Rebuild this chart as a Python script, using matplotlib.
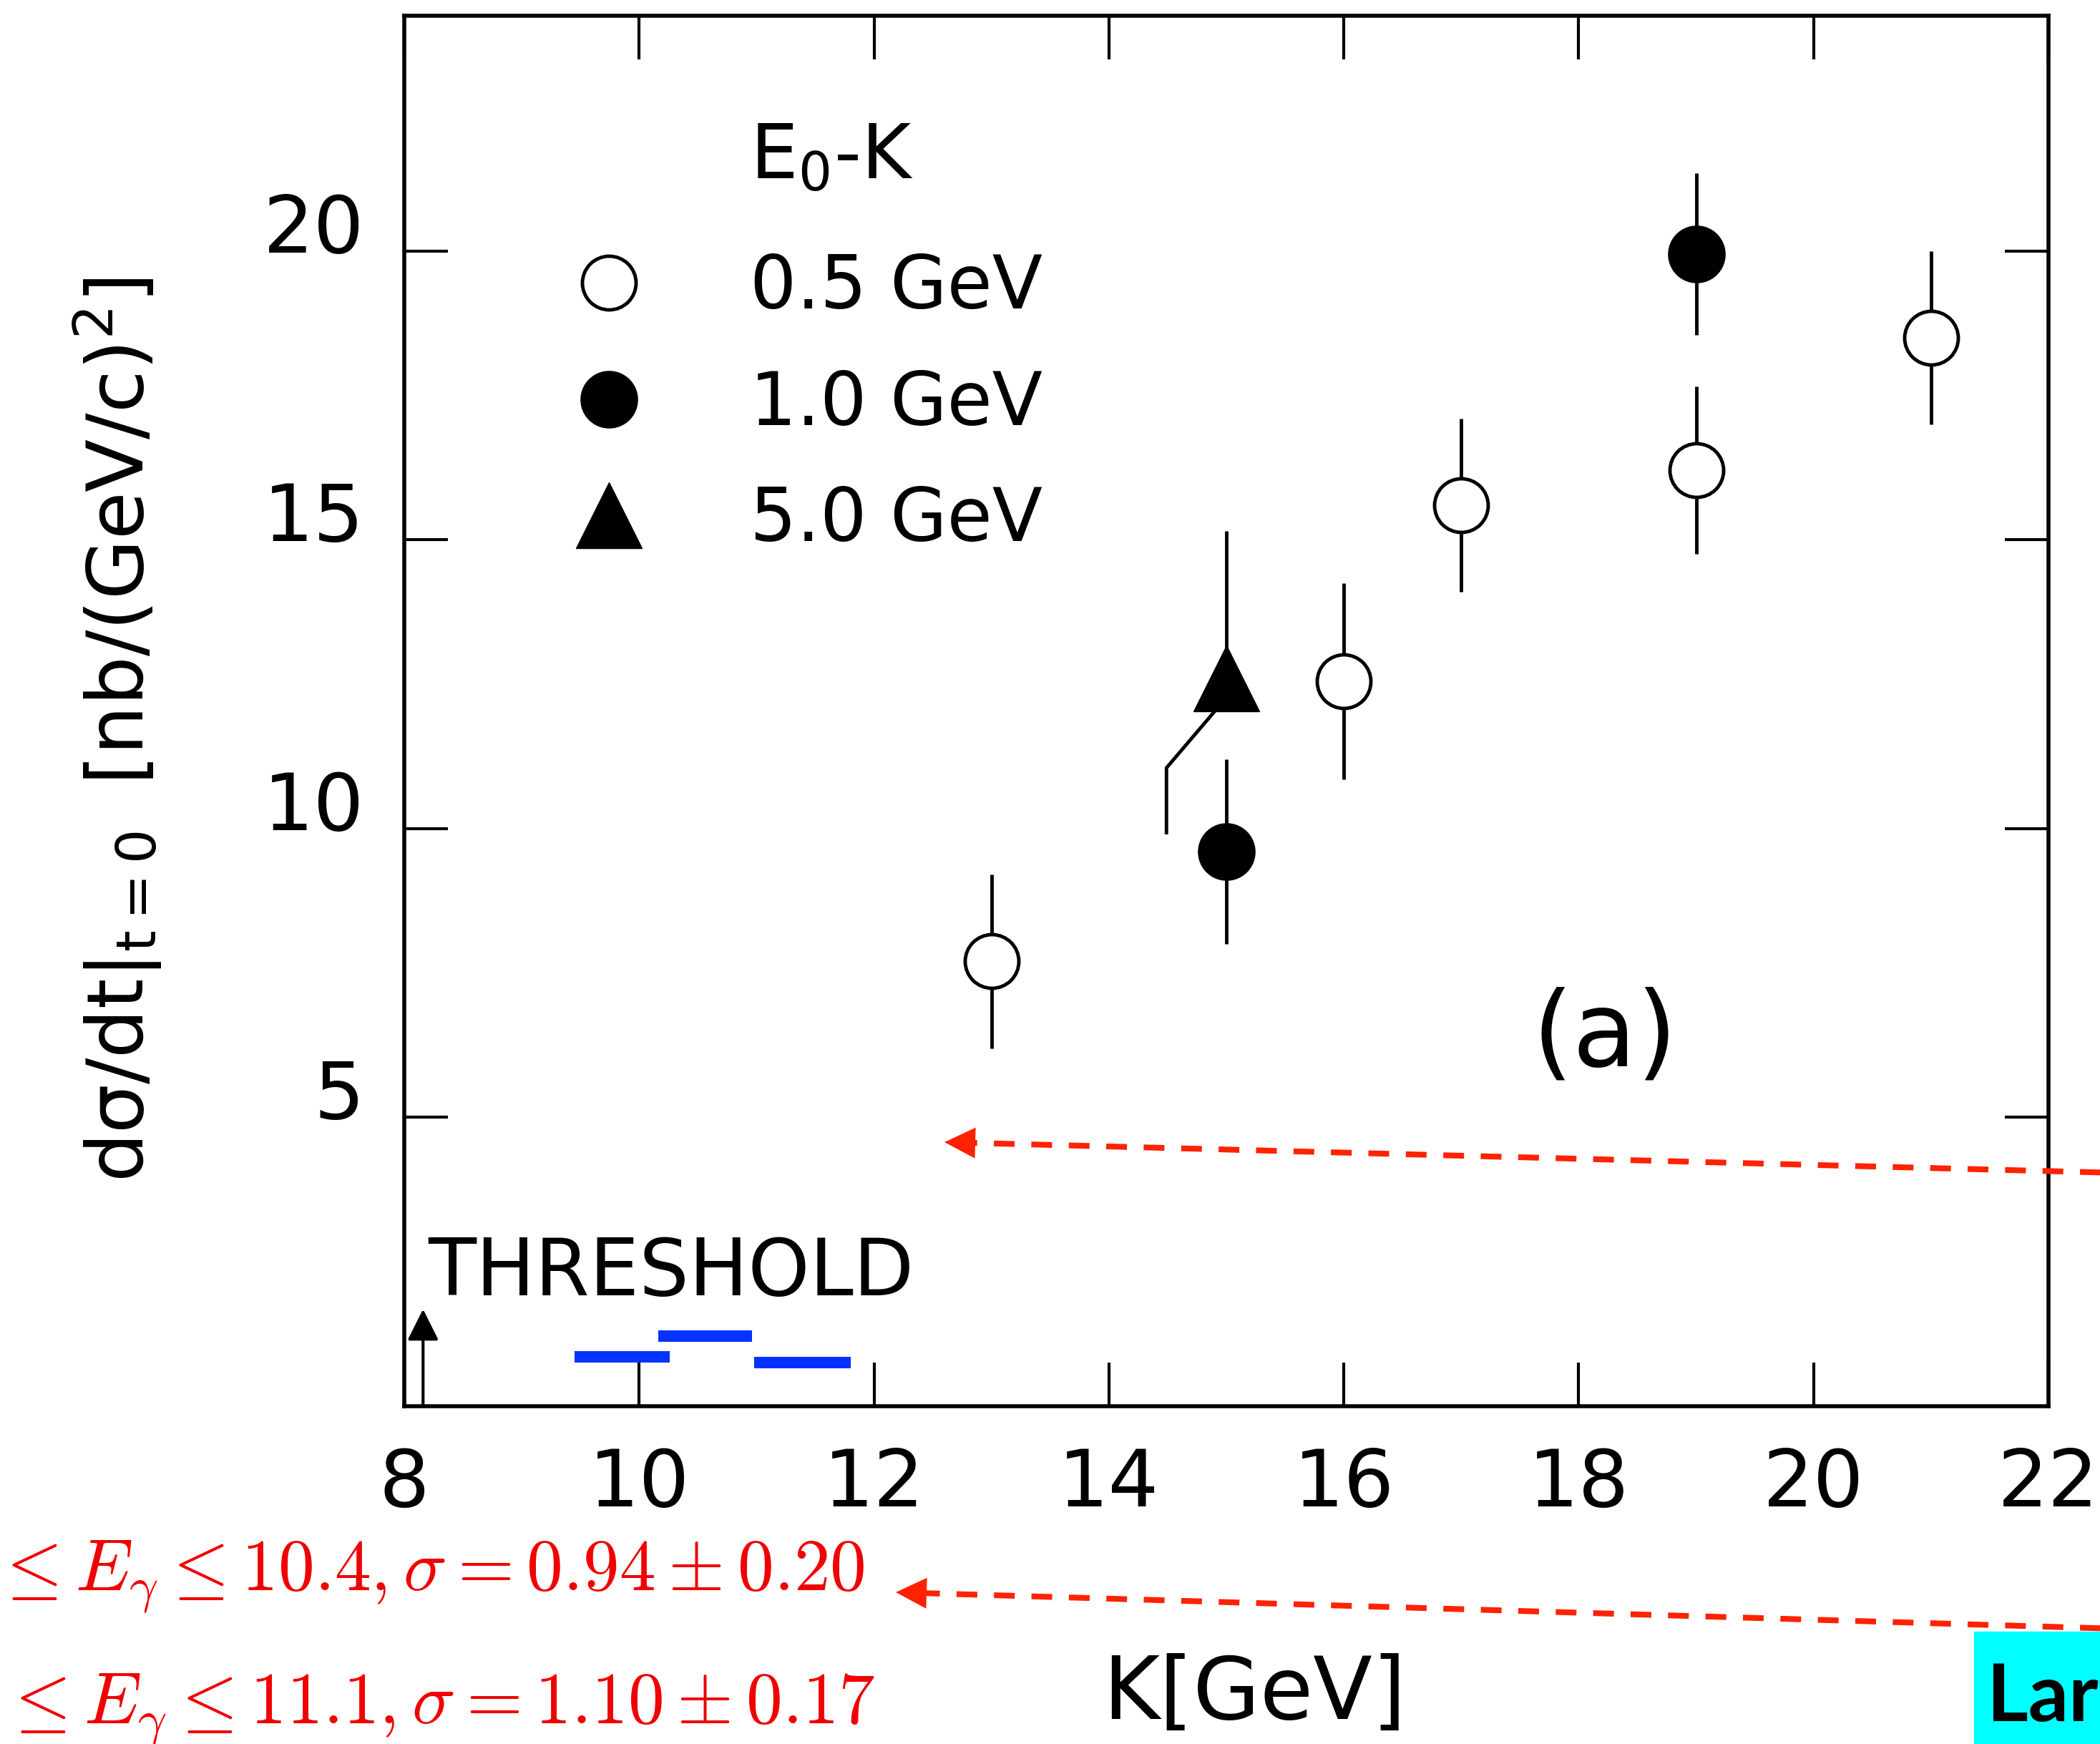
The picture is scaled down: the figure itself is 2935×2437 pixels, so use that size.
import matplotlib
matplotlib.use("Agg")
import matplotlib.pyplot as plt
import matplotlib.transforms as mtransforms
from matplotlib.lines import Line2D
from matplotlib.patches import Rectangle, FancyArrowPatch

# E0-K = 0.5 GeV (open circles)
k_05 = [13, 16, 17, 19, 21]
xs_05 = [7.7, 12.55, 15.6, 16.2, 18.5]
err_05 = [1.5, 1.7, 1.5, 1.45, 1.5]

# E0-K = 1.0 GeV (filled circles)
k_10 = [15, 19]
xs_10 = [9.6, 19.95]
err_10 = [1.6, 1.4]

# E0-K = 5.0 GeV (triangle), lower bar drawn displaced to the left
k_50 = [15]
xs_50 = [12.6]
err_50_up = [2.55]
bent_k = [14.93, 14.49, 14.49]
bent_xs = [12.1, 11.05, 9.93]

threshold_k = 8.16
threshold_top = 1.68

# blue bars
bar_lo = [9.45, 10.16, 10.98]
bar_hi = [10.26, 10.96, 11.8]
bar_y = [0.85, 1.22, 0.75]

xticks = [8, 10, 12, 14, 16, 18, 20, 22]
yticks = [5, 10, 15, 20]

red_lines = [r"$\leq E_\gamma \leq 10.4, \sigma = 0.94 \pm 0.20$",
             r"$\leq E_\gamma \leq 11.1, \sigma = 1.10 \pm 0.17$"]

W, H = 2935, 2437


def fpx(x, y):
    # pixel (from top left) -> figure fraction
    return (x / W, 1 - y / H)


plt.rcParams['font.family'] = ['DejaVu Sans']
plt.rcParams['mathtext.fontset'] = 'dejavusans'

fig = plt.figure(figsize=(W / 100, H / 100), dpi=100)
ax = fig.add_axes([565 / W, 1 - 1965 / H, (2863 - 565) / W, (1965 - 22) / H])
ax.set_xlim(8.05, 22)
ax.set_ylim(0, 24.07)

for s in ax.spines.values():
    s.set_linewidth(4)

ax.set_xticks(xticks)
ax.set_yticks(yticks)
ax.tick_params(direction='in', length=44, width=3, top=True, right=True,
               labelsize=80, pad=40)

off = mtransforms.ScaledTranslation(0, 0.4, fig.dpi_scale_trans)
for lab in ax.get_yticklabels():
    lab.set_transform(lab.get_transform() + off)

ink = 'black'
lw = 3.5

# error bars
ax.errorbar(k_05, xs_05, yerr=err_05, fmt='none', ecolor=ink, elinewidth=lw, capsize=0, zorder=2)
ax.errorbar(k_10, xs_10, yerr=err_10, fmt='none', ecolor=ink, elinewidth=lw, capsize=0, zorder=2)
ax.errorbar(k_50, xs_50, yerr=[[0], err_50_up], fmt='none', ecolor=ink, elinewidth=lw, capsize=0, zorder=2)
ax.plot(bent_k, bent_xs, color=ink, lw=lw, zorder=2)

# markers
ax.plot(k_05, xs_05, 'o', ms=54, mfc='white', mec=ink, mew=3.5, zorder=3)
ax.plot(k_10, xs_10, 'o', ms=57, mfc=ink, mec=ink, zorder=3)
ax.plot(k_50, xs_50, '^', ms=66, mfc=ink, mec=ink, zorder=3)

# threshold
ax.annotate('', xy=(threshold_k, threshold_top), xytext=(threshold_k, 0),
            arrowprops=dict(arrowstyle='-|>', lw=3, color=ink, mutation_scale=67,
                            shrinkA=0, shrinkB=0))
ax.text(8.2, 1.92, 'THRESHOLD', fontsize=79, va='baseline', ha='left')

# blue bars
ax.hlines(bar_y, bar_lo, bar_hi, colors='#0532FF', lw=11.5, zorder=4)

ax.text(18.22, 6.39, '(a)', fontsize=105, ha='center', va='center')

# legend
handles = [Line2D([], [], ls='none', marker='o', ms=54, mfc='white', mec=ink, mew=3.5),
           Line2D([], [], ls='none', marker='o', ms=57, mfc=ink, mec=ink),
           Line2D([], [], ls='none', marker='^', ms=66, mfc=ink, mec=ink)]
labels = ['0.5 GeV', '1.0 GeV', '5.0 GeV']
ax.legend(handles, labels, loc='upper left',
          bbox_to_anchor=((800 - 565) / 2298, (1965 - 352) / 1943),
          frameon=False, fontsize=74, handlelength=1.0, handletextpad=1.41,
          labelspacing=0.6, borderpad=0, borderaxespad=0)
ax.text((1048 - 565) / 2298, (1965 - 250) / 1943, r'$\mathregular{E_0}$-K',
        transform=ax.transAxes, fontsize=76, va='baseline', ha='left')

# axis labels
fig.text(*fpx(165, 1020), r'$\mathregular{d\sigma/dt|_{t=0}\;\;[nb/(GeV/c)^2]}$',
         rotation=90, ha='center', va='center', fontsize=78)
fig.text(*fpx(1753, 2368), 'K[GeV]', ha='center', va='center', fontsize=87)

# red annotations
red = '#FF2200'
for tail, tip in [((2960, 1639), (1320, 1596)), ((2960, 2276), (1252, 2225))]:
    hl = 43
    dx, dy = tip[0] - tail[0], tip[1] - tail[1]
    n = (dx ** 2 + dy ** 2) ** 0.5
    back = (tip[0] - dx / n * hl * 0.9, tip[1] - dy / n * hl * 0.9)
    fig.add_artist(Line2D([tail[0] / W, back[0] / W], [1 - tail[1] / H, 1 - back[1] / H],
                          transform=fig.transFigure, color=red, lw=5.8,
                          dashes=(3.6, 2.9), solid_capstyle='butt', dash_capstyle='butt'))
    fig.add_artist(FancyArrowPatch(
        fpx(*back), fpx(*tip), transform=fig.transFigure,
        arrowstyle='-|>,head_length=1.0,head_width=0.5', mutation_scale=31,
        color=red, lw=0, shrinkA=0, shrinkB=0))

fig.text(*fpx(-9, 2222), red_lines[0], color='#F00000', fontsize=73,
         math_fontfamily='cm', ha='left', va='baseline')
fig.text(*fpx(3, 2408), red_lines[1], color='#F00000', fontsize=73,
         math_fontfamily='cm', ha='left', va='baseline')

# cyan box bottom right
fig.add_artist(Rectangle(fpx(2759, 2437), 1, (2437 - 2280) / H,
                         transform=fig.transFigure, color='#00FFFF', zorder=5))
fig.text(*fpx(2777, 2405), 'Large', fontsize=80, fontweight='bold',
         family=['Lato', 'DejaVu Sans'], ha='left', va='baseline', zorder=6)

fig.savefig('out.png', dpi=100)
